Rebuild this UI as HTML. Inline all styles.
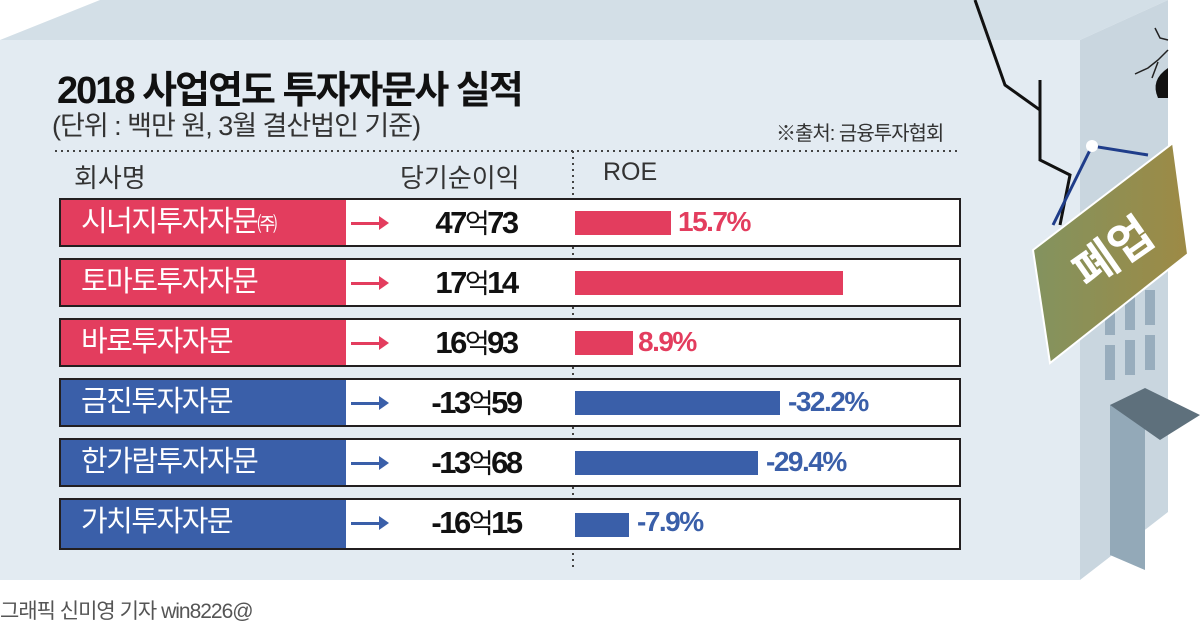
<!DOCTYPE html>
<html><head><meta charset="utf-8"><style>
body{margin:0;width:1200px;height:629px;overflow:hidden;background:#fff;position:relative;font-family:"Liberation Sans","Noto Sans CJK KR",sans-serif}
.a{position:absolute}
.row{position:absolute;left:59px;width:902px;height:49px;border:2px solid #231f20;background:#fff;box-sizing:border-box}
.lab{position:absolute;left:0;top:0;width:285px;height:100%;color:#fff;font-size:29px;line-height:45px;padding-left:20px;box-sizing:border-box;letter-spacing:-1.5px;white-space:nowrap}
.arr{position:absolute;left:290px;top:22px;width:30px;height:3px}
.arr:after{content:"";position:absolute;right:-8px;top:-6px;border-left:10px solid currentColor;border-top:7.5px solid transparent;border-bottom:7.5px solid transparent}
.val{position:absolute;left:340px;width:150px;text-align:center;top:0;line-height:45px;font-size:31px;font-weight:bold;letter-spacing:-2.5px;color:#111}
.val small{font-size:27px;font-weight:normal}
.bar{position:absolute;left:514px;top:11px;height:24px}
.pct{position:absolute;top:0;line-height:43px;font-size:28px;font-weight:bold;letter-spacing:-1.5px}
.r .lab{background:#e33d5e}.r .arr,.r .bar{background:#e33d5e;color:#e33d5e}.r .pct{color:#e33d5e}
.b .lab{background:#3a5fa9}.b .arr,.b .bar{background:#3a5fa9;color:#3a5fa9}.b .pct{color:#3a5fa9}
</style></head><body>
<svg class="a" style="left:0;top:0" width="1200" height="629">
<defs><linearGradient id="g" x1="0" x2="1"><stop offset="0" stop-color="#83935f"/><stop offset="1" stop-color="#9d8a45"/></linearGradient></defs>
<polygon points="0,40 100,0 1168,0 1080,40" fill="#d3dfe7"/>
<rect x="0" y="40" width="1080" height="540" fill="#e3ebf2"/>
<polygon points="1080,40 1168,0 1168,512 1080,580" fill="#c9d6df"/>
<rect x="1105" y="300" width="10" height="35" fill="#98adbd"/><rect x="1125" y="295" width="10" height="35" fill="#98adbd"/><rect x="1145" y="290" width="10" height="35" fill="#98adbd"/>
<rect x="1105" y="345" width="10" height="35" fill="#98adbd"/><rect x="1125" y="340" width="10" height="35" fill="#98adbd"/><rect x="1145" y="335" width="10" height="35" fill="#98adbd"/>
<polygon points="1110,405 1145,390 1145,570 1110,555" fill="#93a9b8"/>
<polygon points="1110,405 1145,388 1200,415 1160,440" fill="#5e707c"/>
<path d="M975,0 L1005,85 L1040,110 L1040,160 L1070,175 L1060,225" stroke="#111" stroke-width="3" fill="none"/>
<path d="M1040,80 L1040,110" stroke="#111" stroke-width="3"/>
<path d="M1155,28 L1160,38 L1168,40 M1168,50 L1158,60 L1148,68 L1135,74 M1158,62 L1152,78" stroke="#222" stroke-width="1.5" fill="none"/>
<path d="M1168,68 Q1150,80 1158,98 L1168,98 Z" fill="#111"/>
<polyline points="1053,225 1092,146 1148,155" stroke="#1f3d8a" stroke-width="3" fill="none"/>
<circle cx="1092" cy="146" r="6" fill="#fff"/>
<polygon points="1033,250 1173,143 1188,254 1050,363" fill="url(#g)" stroke="#fff" stroke-width="2"/>
<text x="1115" y="268" transform="rotate(-35 1115 255)" text-anchor="middle" font-size="46" font-weight="bold" fill="#fff" font-family="Liberation Sans,Noto Sans CJK KR,sans-serif">폐업</text>
<line x1="55" y1="151" x2="960" y2="151" stroke="#444" stroke-width="2" stroke-dasharray="2,4"/>
<line x1="573" y1="151" x2="573" y2="568" stroke="#444" stroke-width="2" stroke-dasharray="2,4"/>
</svg>
<div class="a" style="left:57px;top:59px;font-size:38px;font-weight:bold;letter-spacing:-2px;color:#111">2018 사업연도 투자자문사 실적</div>
<div class="a" style="left:52px;top:104px;font-size:27px;color:#333;letter-spacing:-1px">(단위 : 백만 원, 3월 결산법인 기준)</div>
<div class="a" style="left:776px;top:117px;font-size:20px;color:#333;letter-spacing:-1px">※출처: 금융투자협회</div>
<div class="a" style="left:74px;top:158px;font-size:26px;color:#333">회사명</div>
<div class="a" style="left:400px;top:158px;font-size:26px;color:#333">당기순이익</div>
<div class="a" style="left:603px;top:158px;font-size:25px;color:#333">ROE</div>

<div class="row r" style="top:198px"><div class="lab">시너지투자자문<span style="font-size:20px">㈜</span></div><div class="arr"></div><div class="val">47<small>억</small>73</div><div class="bar" style="width:96px"></div><div class="pct" style="left:617px">15.7%</div></div>
<div class="row r" style="top:258px"><div class="lab">토마토투자자문</div><div class="arr"></div><div class="val">17<small>억</small>14</div><div class="bar" style="width:268px"></div></div>
<div class="row r" style="top:318px"><div class="lab">바로투자자문</div><div class="arr"></div><div class="val">16<small>억</small>93</div><div class="bar" style="width:58px"></div><div class="pct" style="left:577px">8.9%</div></div>
<div class="row b" style="top:378px"><div class="lab">금진투자자문</div><div class="arr"></div><div class="val">-13<small>억</small>59</div><div class="bar" style="width:205px"></div><div class="pct" style="left:727px">-32.2%</div></div>
<div class="row b" style="top:438px"><div class="lab">한가람투자자문</div><div class="arr"></div><div class="val">-13<small>억</small>68</div><div class="bar" style="width:183px"></div><div class="pct" style="left:705px">-29.4%</div></div>
<div class="row b" style="top:498px;height:52px"><div class="lab">가치투자자문</div><div class="arr"></div><div class="val">-16<small>억</small>15</div><div class="bar" style="width:54px;top:13px"></div><div class="pct" style="left:576px">-7.9%</div></div>

<div class="a" style="left:0;top:595px;font-size:21px;color:#555;letter-spacing:-1px">그래픽 신미영 기자 win8226@</div>
</body></html>
